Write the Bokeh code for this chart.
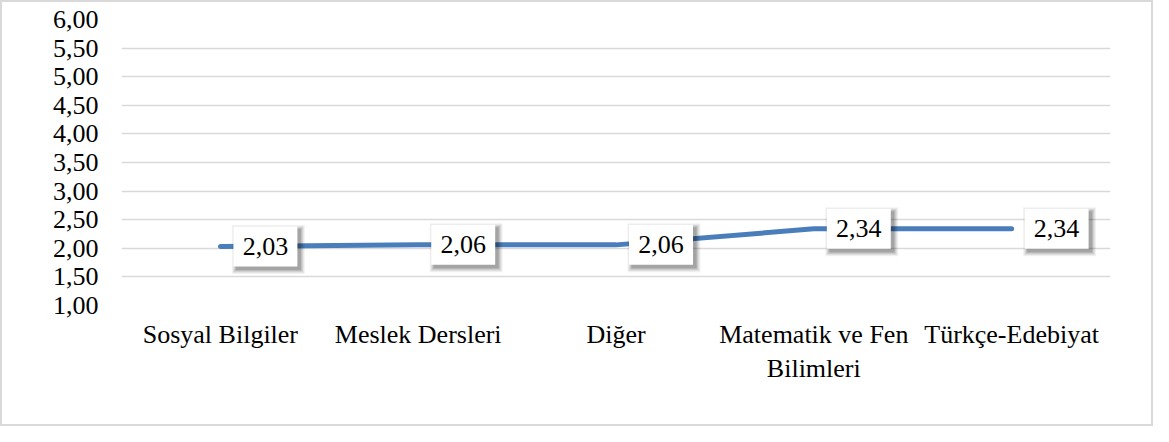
from bokeh.plotting import figure
from bokeh.models import Range1d, FixedTicker, ColumnDataSource
from bokeh.transform import dodge
from bokeh.core.properties import value
from bokeh.embed import file_html
from bokeh.resources import INLINE

# ---- data ----
categories = ["Sosyal Bilgiler", "Meslek Dersleri", "Diğer",
              "Matematik ve Fen\nBilimleri", "Türkçe-Edebiyat"]
values = [2.03, 2.06, 2.06, 2.34, 2.34]
y_ticks = [1.0, 1.5, 2.0, 2.5, 3.0, 3.5, 4.0, 4.5, 5.0, 5.5, 6.0]
y_tick_labels = ["1,00", "1,50", "2,00", "2,50", "3,00", "3,50",
                 "4,00", "4,50", "5,00", "5,50", "6,00"]
data_labels = [f"{v:.2f}".replace(".", ",") for v in values]

FONT = "Liberation Serif"
FSIZE = "26px"
LINE_COLOR = "#4a7ebb"
W, H = 1153, 426

src = ColumnDataSource(dict(cat=categories, val=values, lab=data_labels))

p = figure(x_range=categories, y_range=Range1d(1.0, 6.0),
           width=W, height=H, output_backend="svg",
           toolbar_location=None,
           min_border_left=119, min_border_right=45,
           min_border_top=17, min_border_bottom=123)
p.outline_line_color = None
p.background_fill_color = "white"
p.border_fill_color = "white"
# chart border (Excel chart-area outline)
p.styles = {"border": "2px solid #d9d9d9", "box-sizing": "border-box"}

# grid
p.xgrid.grid_line_color = None
p.ygrid.grid_line_color = "#d9d9d9"
p.ygrid.grid_line_width = 1.5
p.yaxis.ticker = FixedTicker(ticks=y_ticks)
p.yaxis.major_label_overrides = {t: l for t, l in zip(y_ticks, y_tick_labels)}

# axes
for ax in (p.xaxis, p.yaxis):
    ax.axis_line_color = None
    ax.major_tick_line_color = None
    ax.minor_tick_line_color = None
    ax.major_tick_out = 0
    ax.major_label_text_font = FONT
    ax.major_label_text_font_size = FSIZE
    ax.major_label_text_color = "black"
p.yaxis.major_label_standoff = 23
p.xaxis.major_label_standoff = 14

# line
p.line(x="cat", y="val", source=src, line_color=LINE_COLOR,
       line_width=5, line_cap="round", line_join="round")

# data label boxes (shadow + white box + text)
LX = 0.2275     # label offset to the right (category units)
SX = 0.015      # shadow offset x
SY = -0.052     # shadow offset y
for grow, alpha in [(9, 0.05), (7, 0.06), (5, 0.08), (3, 0.10), (1, 0.12)]:
    p.rect(x=dodge("cat", LX + SX, range=p.x_range),
           y=dodge("val", SY, range=p.y_range), source=src,
           width=64 + grow, height=40 + grow,
           width_units="screen", height_units="screen",
           fill_color="black", fill_alpha=alpha, line_color=None)
p.rect(x=dodge("cat", LX, range=p.x_range), y="val", source=src,
       width=64, height=40, width_units="screen", height_units="screen",
       fill_color="white", line_color=None)
p.text(x=dodge("cat", LX, range=p.x_range), y="val", text="lab", source=src,
       text_align="center", text_baseline="middle",
       text_font=value(FONT), text_font_size=FSIZE, text_color="black")

open("out.html", "w").write(file_html(p, INLINE))
